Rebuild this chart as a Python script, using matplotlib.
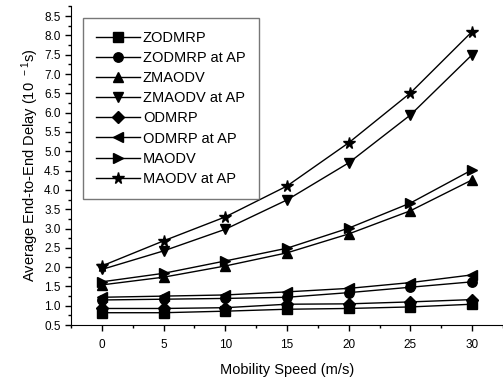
import matplotlib
matplotlib.use('Agg')
from matplotlib import pyplot as plt
from matplotlib.ticker import MultipleLocator

plt.rcParams['font.family'] = ['Liberation Sans', 'DejaVu Sans']
plt.rcParams['mathtext.fontset'] = 'custom'
plt.rcParams['mathtext.rm'] = 'Liberation Sans'
plt.rcParams['mathtext.it'] = 'Liberation Sans'

speed = [0, 5, 10, 15, 20, 25, 30]

zodmrp = [0.82, 0.82, 0.86, 0.91, 0.93, 0.97, 1.04]
zodmrp_ap = [1.15, 1.17, 1.19, 1.22, 1.34, 1.48, 1.62]
zmaodv = [1.54, 1.74, 2.03, 2.37, 2.86, 3.46, 4.26]
zmaodv_ap = [1.94, 2.42, 2.98, 3.74, 4.70, 5.94, 7.50]
odmrp = [0.93, 0.93, 0.95, 1.04, 1.05, 1.10, 1.16]
odmrp_ap = [1.22, 1.25, 1.28, 1.36, 1.45, 1.60, 1.80]
maodv = [1.62, 1.84, 2.16, 2.49, 3.01, 3.66, 4.52]
maodv_ap = [2.03, 2.68, 3.30, 4.10, 5.22, 6.51, 8.10]

series = [
    ('ZODMRP', zodmrp, 's'),
    ('ZODMRP at AP', zodmrp_ap, 'o'),
    ('ZMAODV', zmaodv, '^'),
    ('ZMAODV at AP', zmaodv_ap, 'v'),
    ('ODMRP', odmrp, 'D'),
    ('ODMRP at AP', odmrp_ap, '<'),
    ('MAODV', maodv, '>'),
    ('MAODV at AP', maodv_ap, '*'),
]

fig = plt.figure(figsize=(5.03, 3.78), dpi=100)
ax = fig.add_axes([0.141, 0.14, 0.859, 0.845])

for name, vals, m in series:
    ms = 8.5 if m == '*' else 6.8
    if m == 'D':
        ms = 5.8
    ax.plot(speed, vals, color='black', lw=1.0, marker=m, markersize=ms, label=name)

ax.set_xlim(-2.5, 32.5)
ax.set_ylim(0.5, 8.77)
ax.xaxis.set_major_locator(MultipleLocator(5))
ax.xaxis.set_minor_locator(MultipleLocator(2.5))
ax.yaxis.set_major_locator(MultipleLocator(0.5))
ax.yaxis.set_minor_locator(MultipleLocator(0.25))
ax.yaxis.set_major_formatter(matplotlib.ticker.FormatStrFormatter('%.1f'))
ax.spines['top'].set_visible(False)
ax.spines['right'].set_visible(False)
ax.tick_params(which='major', direction='out', length=4, width=1, labelsize=8.5)
ax.tick_params(which='minor', direction='out', length=2.5, width=1)
ax.tick_params(axis='x', pad=6)

ax.set_xlabel('Mobility Speed (m/s)', fontsize=10.5, labelpad=9)
ax.set_ylabel('Average End-to-End Delay (10$^{\\ \\ -1}$s)', fontsize=10.5, labelpad=2)

leg = ax.legend(loc='upper left', bbox_to_anchor=(0.028, 0.962), fontsize=10.5,
                frameon=True, fancybox=False, edgecolor='#555555',
                handlelength=3.0, handletextpad=0.2, labelspacing=0.42,
                borderpad=0.9, borderaxespad=0)
leg.get_frame().set_linewidth(1.0)

fig.savefig('out.png', dpi=100)
